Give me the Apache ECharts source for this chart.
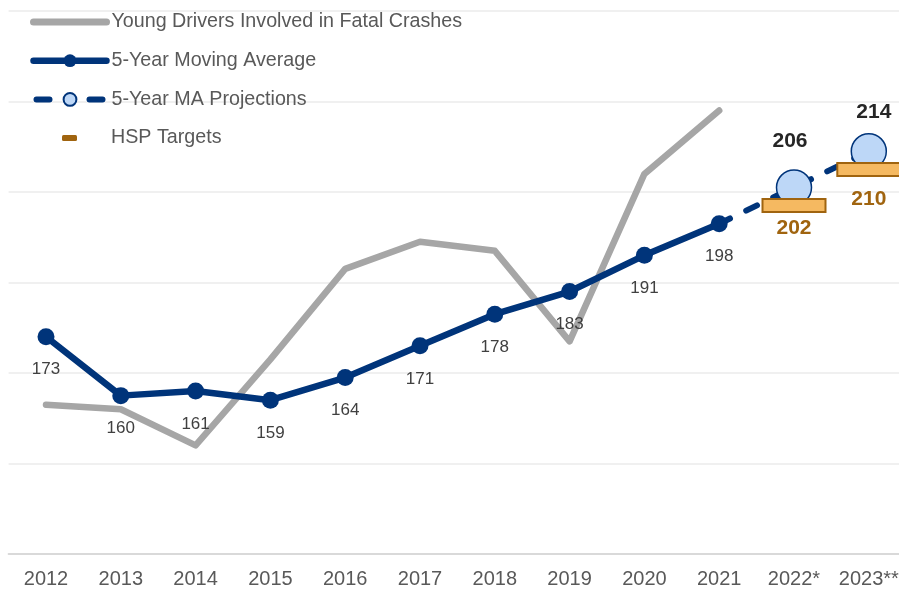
<!DOCTYPE html>
<html>
<head>
<meta charset="utf-8">
<title>Young Drivers Involved in Fatal Crashes</title>
<script src="https://cdn.jsdelivr.net/npm/echarts@6/dist/echarts.min.js"></script>
<style>
  html, body { margin: 0; padding: 0; background: #fff; }
  #main { width: 899px; height: 589px; }
</style>
</head>
<body>
<div id="main"></div>
<script>
const years = ["2012", "2013", "2014", "2015", "2016", "2017", "2018", "2019", "2020", "2021", "2022*", "2023**"];
const youngDrivers = [158, 157, 149, 168, 188, 194, 192, 172, 209, 223, null, null];
const movingAvg = [173, 160, 161, 159, 164, 171, 178, 183, 191, 198, null, null];
const projections = [null, null, null, null, null, null, null, null, null, 198, 206, 214];
const hspTargets = [null, null, null, null, null, null, null, null, null, null, 202, 210];

const font = "'Liberation Sans', Arial, sans-serif";
const navy = "#00347A";
const brown = "#A0640F";
const gray = "#A6A6A6";

const chart = echarts.init(document.getElementById("main"));

// projection points: first one sits on the MA marker, so no symbol/label
const projData = projections.map((v, i) => {
    if (v === null) return null;
    if (i === 9) return { value: v, symbol: "none", label: { show: false } };
    return {
        value: v,
        label: {
            show: true,
            distance: i === 10 ? 18 : 10,
            offset: i === 10 ? [-4, 0] : [5, 0]
        }
    };
});

const targetData = hspTargets
    .map((v, i) => [i, v])
    .filter((d) => d[1] !== null);

option = {
    animation: false,
    textStyle: { fontFamily: font },
    grid: { left: 8.6, top: 11, width: 897.6, height: 543, outerBoundsMode: "none" },
    legend: [
        {
            data: [
                {
                    name: "Young Drivers Involved in Fatal Crashes",
                    itemStyle: { opacity: 0 },
                    lineStyle: { width: 7, color: gray, cap: "round" }
                },
                {
                    name: "5-Year Moving Average",
                    lineStyle: { width: 6.5, color: navy, cap: "round" }
                },
                {
                    name: "5-Year MA Projections",
                    lineStyle: { width: 6, color: navy, cap: "round", type: [13, 40], dashOffset: 50 }
                }
            ],
            orient: "vertical",
            left: 30,
            top: 12,
            padding: 0,
            itemWidth: 73,
            itemHeight: 16,
            itemGap: 18.7,
            selectedMode: false,
            textStyle: { fontSize: 19.7, color: "#595959", lineHeight: 20, fontFamily: font }
        },
        {
            data: [{ name: "HSP Targets", icon: "roundRect" }],
            left: 62,
            top: 128,
            padding: 0,
            itemWidth: 15,
            itemHeight: 6,
            selectedMode: false,
            itemStyle: { color: brown, borderWidth: 0 },
            textStyle: { fontSize: 19.7, color: "#595959", lineHeight: 20, padding: [0, 0, 0, 29], fontFamily: font }
        }
    ],
    xAxis: {
        type: "category",
        data: years,
        axisTick: { show: false },
        axisLine: { lineStyle: { color: "#D9D9D9", width: 2 } },
        axisLabel: { interval: 0, fontSize: 20, color: "#595959", margin: 15, fontFamily: font }
    },
    yAxis: [
        {
            // only for the gridlines
            type: "value",
            min: 0,
            max: 6,
            interval: 1,
            axisLabel: { show: false },
            axisLine: { show: false },
            axisTick: { show: false },
            splitLine: { lineStyle: { color: "#EBEBEB", width: 1.5 } }
        },
        {
            type: "value",
            min: 125,
            max: 245,
            show: false,
            splitLine: { show: false }
        }
    ],
    series: [
        {
            name: "Young Drivers Involved in Fatal Crashes",
            type: "line",
            yAxisIndex: 1,
            data: youngDrivers,
            symbol: "none",
            lineStyle: { color: gray, width: 6.5, cap: "round", join: "round" },
            itemStyle: { color: gray },
            z: 2
        },
        {
            name: "5-Year Moving Average",
            type: "line",
            yAxisIndex: 1,
            data: movingAvg,
            symbol: "circle",
            symbolSize: 17,
            lineStyle: { color: navy, width: 6.5, join: "round" },
            itemStyle: { color: navy },
            label: {
                show: true,
                position: "bottom",
                distance: 16,
                fontSize: 17,
                color: "#404040",
                fontFamily: font
            },
            z: 3
        },
        {
            name: "5-Year MA Projections",
            type: "line",
            yAxisIndex: 1,
            data: projData,
            symbol: "circle",
            symbolSize: 35,
            lineStyle: { color: navy, width: 6, type: [12, 18], cap: "round" },
            itemStyle: { color: "#BDD7F7", borderColor: navy, borderWidth: 1.5 },
            label: {
                show: false,
                position: "top",
                fontSize: 21,
                fontWeight: "bold",
                color: "#262626",
                fontFamily: font
            },
            z: 4
        },
        {
            name: "HSP Targets",
            type: "custom",
            yAxisIndex: 1,
            data: targetData,
            encode: { x: 0, y: 1 },
            itemStyle: { color: brown },
            z: 5,
            renderItem: (params, api) => {
                const val = api.value(1);
                const p = api.coord([api.value(0), val]);
                const gap = params.dataIndex === 0 ? 6 : 13;
                return {
                    type: "group",
                    children: [
                        {
                            type: "rect",
                            shape: { x: p[0] - 31.5, y: p[1] - 6.5, width: 63, height: 13 },
                            style: { fill: "#F5B961", stroke: brown, lineWidth: 2 }
                        },
                        {
                            type: "text",
                            x: p[0],
                            y: p[1] + 6.5 + gap,
                            style: {
                                text: String(val),
                                fill: brown,
                                font: "bold 21px " + font,
                                align: "center",
                                verticalAlign: "top"
                            }
                        }
                    ]
                };
            }
        }
    ]
};

chart.setOption(option);
</script>
</body>
</html>
